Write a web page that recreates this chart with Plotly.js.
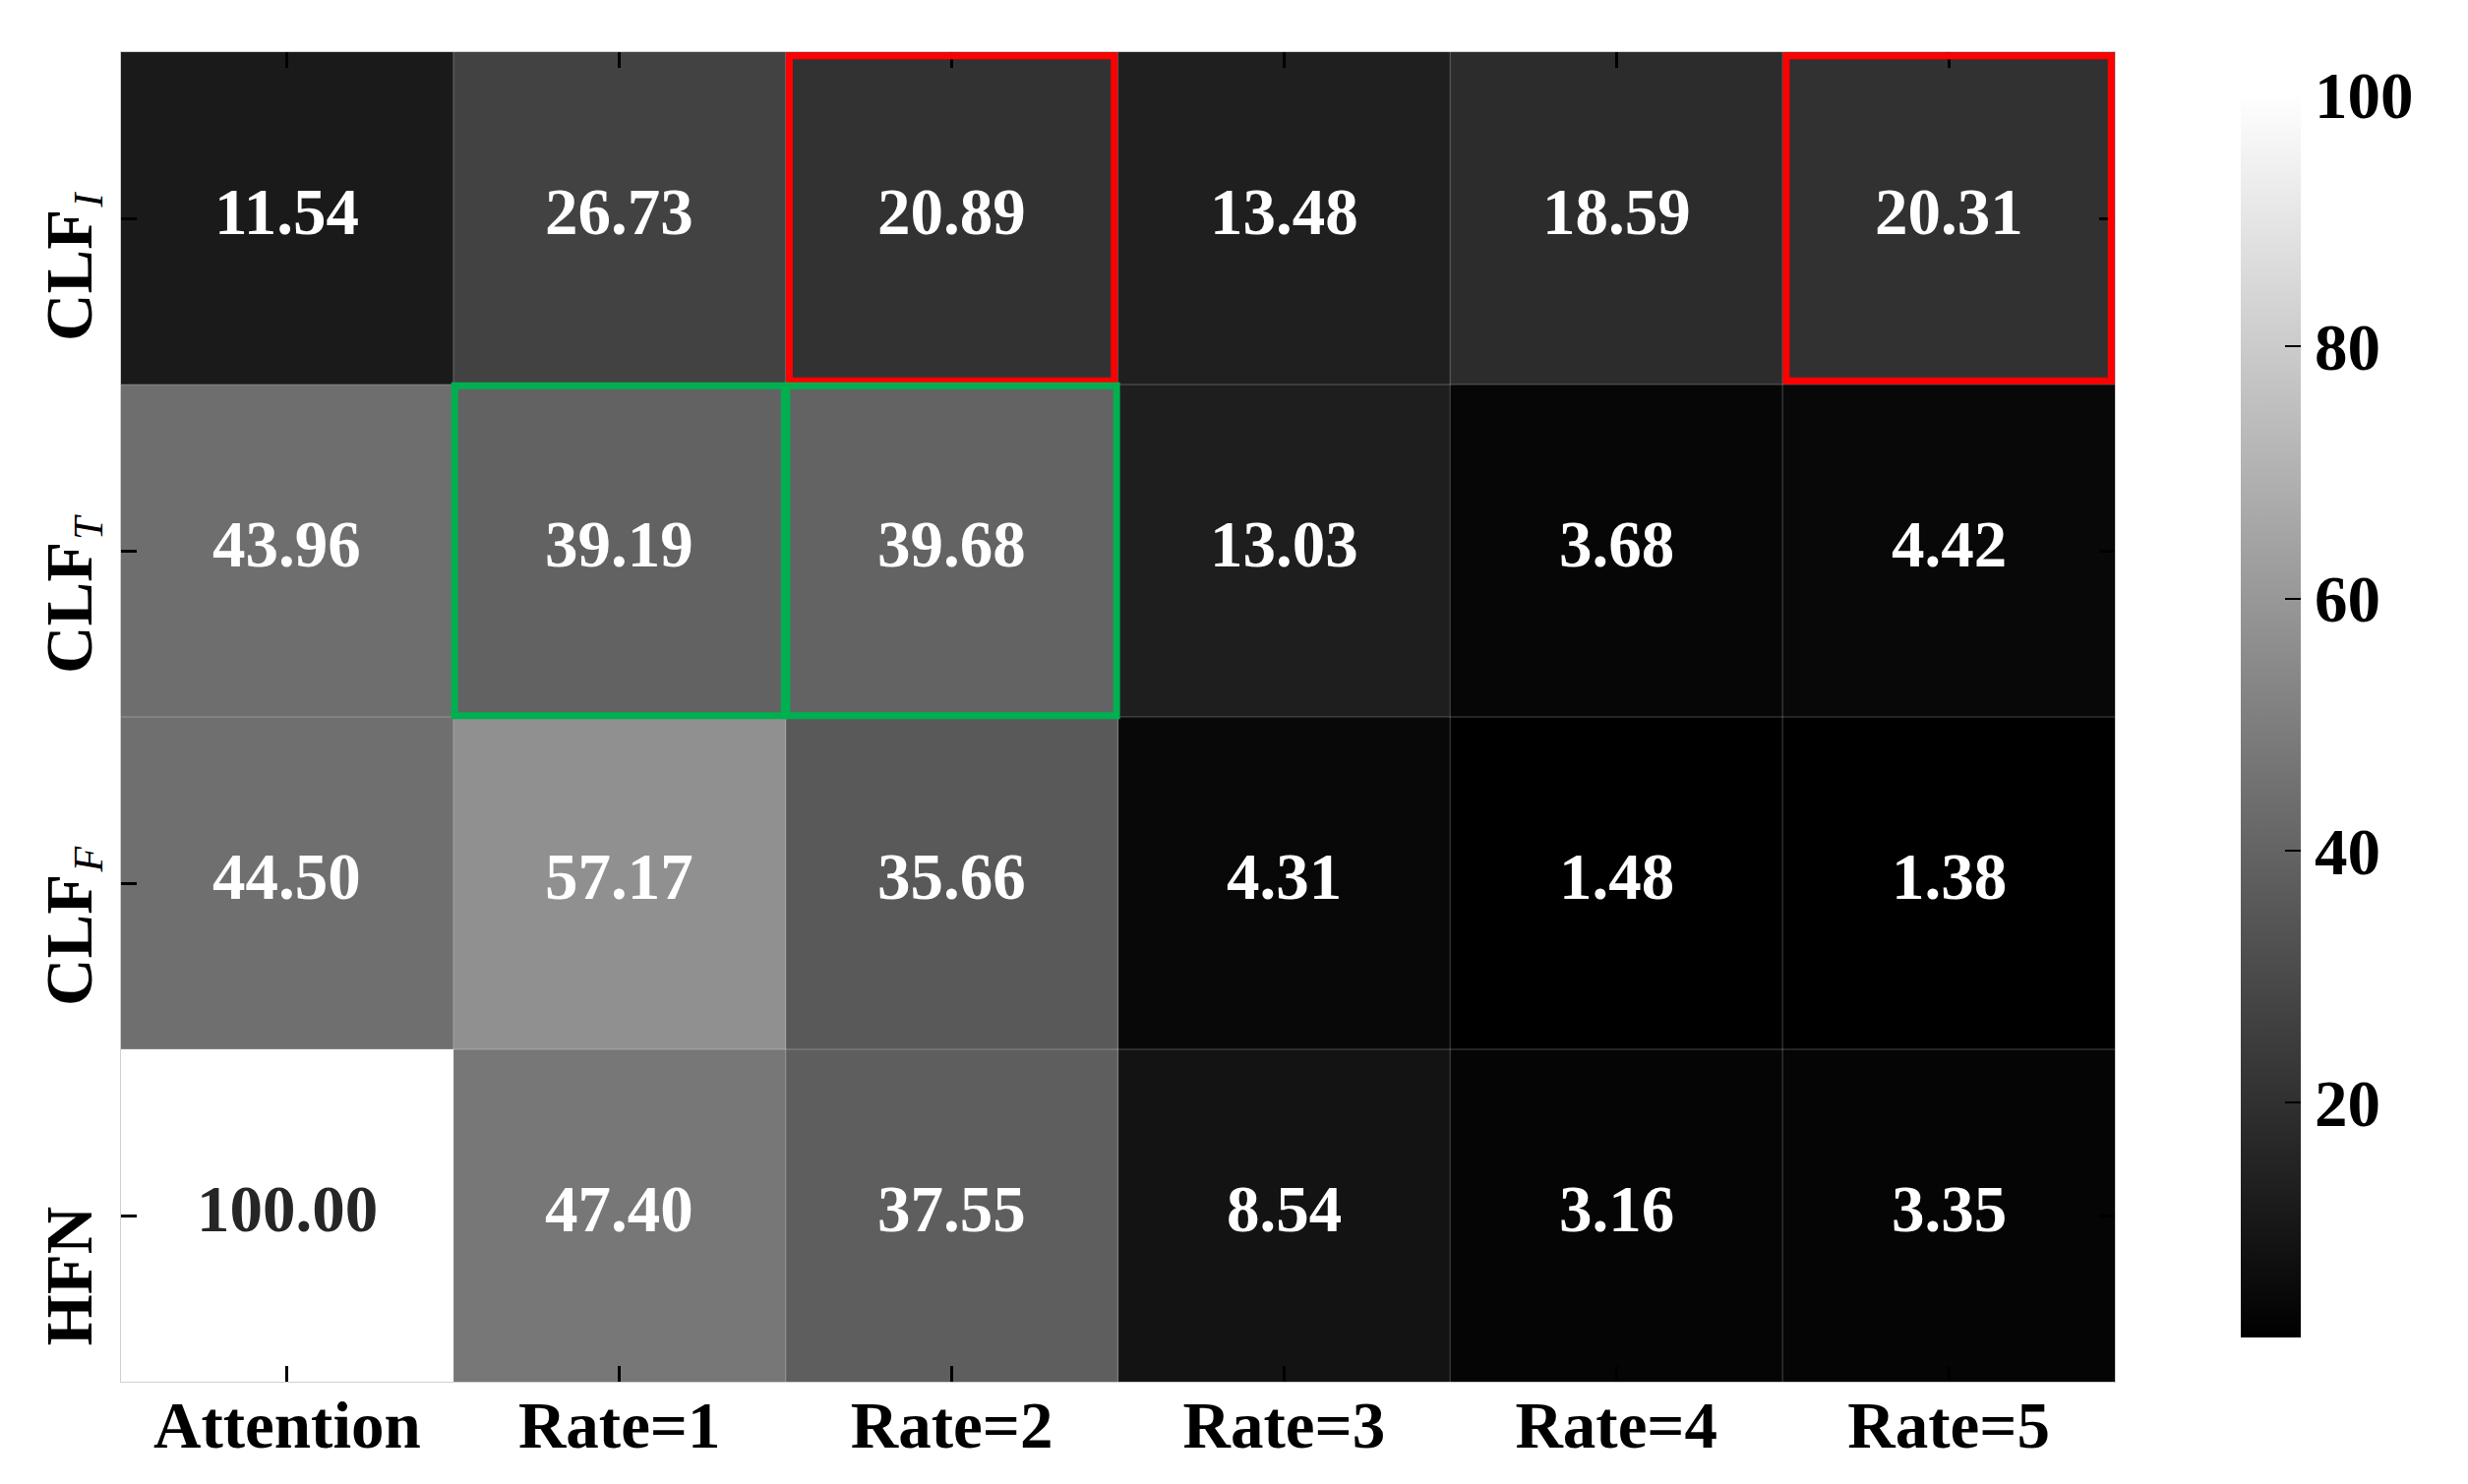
<!DOCTYPE html>
<html>
<head>
<meta charset="utf-8">
<script src="https://cdn.plot.ly/plotly-3.0.1.min.js"></script>
<style>html,body{margin:0;padding:0;background:#fff;}</style>
</head>
<body>
<div id="chart" style="width:2509px;height:1509px;"></div>
<script>
// ---- data ----
const xLabels = ["Attention", "Rate=1", "Rate=2", "Rate=3", "Rate=4", "Rate=5"];
const yLabelMain = ["CLF", "CLF", "CLF", "HFN"];
const yLabelSub  = ["I", "T", "F", ""];
const rowCLF_I = [11.54, 26.73, 20.89, 13.48, 18.59, 20.31];
const rowCLF_T = [43.96, 39.19, 39.68, 13.03, 3.68, 4.42];
const rowCLF_F = [44.50, 57.17, 35.66, 4.31, 1.48, 1.38];
const rowHFN   = [100.00, 47.40, 37.55, 8.54, 3.16, 3.35];
const colorbarTicks = [20, 40, 60, 80, 100];
// highlighted cells: [rowIndex, colIndex]
const redCells = [[0, 2], [0, 5]];
const greenCells = [[1, 1], [1, 2]];

const zData = [rowCLF_I, rowCLF_T, rowCLF_F, rowHFN];
const allVals = zData.flat();
const zMin = Math.min(...allVals);
const zMax = Math.max(...allVals);
const xIdx = xLabels.map((_, i) => i);
const yIdx = yLabelMain.map((_, i) => i);
const nRows = yLabelMain.length;

const FONT = '"Liberation Serif", "Times New Roman", Times, serif';

const trace = {
  type: 'heatmap',
  z: zData,
  x: xIdx,
  y: yIdx,
  zmin: zMin,
  zmax: zMax,
  colorscale: [[0, '#000000'], [1, '#ffffff']],
  showscale: true,
  hoverinfo: 'skip',
  colorbar: {
    x: 1.0631, xanchor: 'left', xpad: 0,
    y: 0.5007, yanchor: 'middle', ypad: 0,
    thickness: 61, thicknessmode: 'pixels',
    len: 1264, lenmode: 'pixels',
    outlinewidth: 0,
    tickvals: colorbarTicks,
    ticks: 'inside', ticklen: 16, tickwidth: 2, tickcolor: '#000',
    tickfont: {family: FONT, size: 67, color: '#000', weight: 'bold'}
  }
};

const annotations = [];
zData.forEach((row, r) => {
  row.forEach((v, c) => {
    annotations.push({
      x: c, y: r, xref: 'x', yref: 'y', yshift: 7,
      text: v.toFixed(2), showarrow: false,
      font: {family: FONT, size: 67, weight: 'bold', color: v > 80 ? '#262626' : '#ffffff'}
    });
  });
});
// y-axis category labels (rotated), main text ends just above the tick, subscript continues beyond
yLabelMain.forEach((lab, r) => {
  annotations.push({
    x: -0.0262, xref: 'paper', y: r, yref: 'y', xanchor: 'center', yanchor: 'top',
    yshift: 10, textangle: -90, showarrow: false, borderpad: 0,
    text: '<b>' + lab + '</b>',
    font: {family: FONT, size: 67, color: '#000'}
  });
  if (yLabelSub[r]) {
    annotations.push({
      x: -0.0163, xref: 'paper', y: r, yref: 'y', xanchor: 'center', yanchor: 'bottom',
      yshift: 10, textangle: -90, showarrow: false, borderpad: 0,
      text: '<i>' + yLabelSub[r] + '</i>',
      font: {family: FONT, size: 42, color: '#000'}
    });
  }
});

const shapes = [];
// cell grid lines
for (let i = 1; i < xLabels.length; i++) {
  shapes.push({type: 'line', xref: 'x', yref: 'y', x0: i - 0.5, x1: i - 0.5, y0: -0.5, y1: nRows - 0.5,
    line: {color: 'rgba(255,255,255,0.18)', width: 1.5}, layer: 'above'});
}
for (let j = 1; j < nRows; j++) {
  shapes.push({type: 'line', xref: 'x', yref: 'y', y0: j - 0.5, y1: j - 0.5, x0: -0.5, x1: xLabels.length - 0.5,
    line: {color: 'rgba(255,255,255,0.18)', width: 1.5}, layer: 'above'});
}
function box(cell, color, inset) {
  const [r, c] = cell;
  return {type: 'rect', xref: 'x', yref: 'y',
    x0: c - 0.5 + inset, x1: c + 0.5 - inset, y0: r - 0.5 + inset, y1: r + 0.5 - inset,
    line: {color: color, width: 7}, fillcolor: 'rgba(0,0,0,0)', layer: 'above'};
}
redCells.forEach(c => shapes.push(box(c, '#ff0000', 0.011)));
greenCells.forEach(c => shapes.push(box(c, '#00b050', 0.004)));

const layout = {
  width: 2509, height: 1509, autosize: false,
  paper_bgcolor: '#ffffff', plot_bgcolor: '#ffffff',
  margin: {l: 123, r: 359, t: 53, b: 104, pad: 0},
  font: {family: FONT, color: '#000'},
  showlegend: false,
  xaxis: {
    tickvals: xIdx, ticktext: xLabels,
    range: [-0.5, xLabels.length - 0.5],
    ticks: 'inside', ticklen: 16, tickwidth: 3, tickcolor: '#000',
    showline: true, linecolor: '#d0d0d0', linewidth: 1, mirror: 'ticks',
    showgrid: false, zeroline: false, fixedrange: true,
    ticklabelstandoff: -14,
    tickfont: {family: FONT, size: 67, color: '#000', weight: 'bold'}
  },
  yaxis: {
    tickvals: yIdx, showticklabels: false,
    range: [nRows - 0.5, -0.5],
    ticks: 'inside', ticklen: 16, tickwidth: 3, tickcolor: '#000',
    showline: true, linecolor: '#d0d0d0', linewidth: 1, mirror: 'ticks',
    showgrid: false, zeroline: false, fixedrange: true
  },
  annotations: annotations,
  shapes: shapes
};

Plotly.newPlot('chart', [trace], layout, {displayModeBar: false, staticPlot: true});
</script>
</body>
</html>
